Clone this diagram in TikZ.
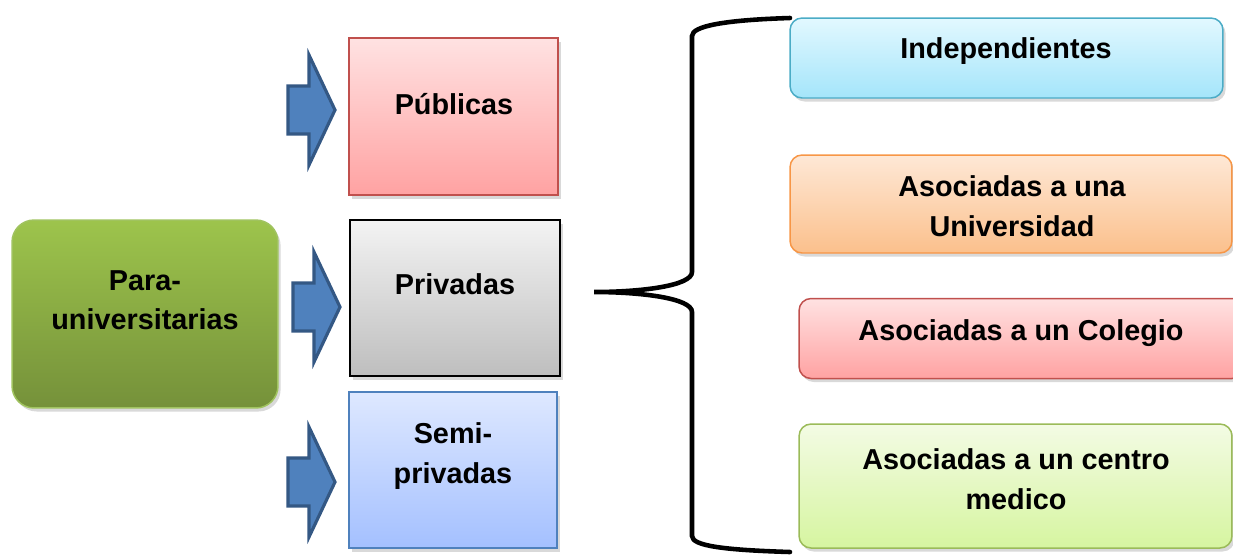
\documentclass[tikz,border=0pt]{standalone}
\usepackage{fontspec}
\setmainfont{Liberation Sans}
\usetikzlibrary{shadows}

\definecolor{grntop}{RGB}{157,196,76}
\definecolor{grnbot}{RGB}{117,145,58}
\definecolor{grnline}{RGB}{160,195,95}
\definecolor{redtop}{RGB}{255,226,226}
\definecolor{redbot}{RGB}{255,162,162}
\definecolor{redline}{RGB}{192,80,77}
\definecolor{graytop}{RGB}{243,243,243}
\definecolor{graybot}{RGB}{190,190,190}
\definecolor{bluetop}{RGB}{222,232,255}
\definecolor{bluebot}{RGB}{164,192,255}
\definecolor{blueline}{RGB}{79,129,189}
\definecolor{cyantop}{RGB}{226,248,255}
\definecolor{cyanbot}{RGB}{164,229,250}
\definecolor{cyanline}{RGB}{75,172,198}
\definecolor{orgtop}{RGB}{254,232,214}
\definecolor{orgbot}{RGB}{251,192,140}
\definecolor{orgline}{RGB}{247,150,70}
\definecolor{limetop}{RGB}{243,251,228}
\definecolor{limebot}{RGB}{214,245,160}
\definecolor{limeline}{RGB}{155,187,89}
\definecolor{arrfill}{RGB}{79,129,189}
\definecolor{arrline}{RGB}{52,88,132}

\begin{document}
\begin{tikzpicture}[
  x=0.02cm, y=-0.02cm,
  box/.style = {draw, line width=0.85pt, inner sep=0pt,
    drop shadow={opacity=0.3, shadow xshift=1.5pt, shadow yshift=-2pt}},
  roundbox/.style = {box, rounded corners=0.24cm},
  lbl/.style = {font=\fontsize{16.4}{22.5}\selectfont\bfseries, align=center, inner sep=0pt},
  blockarrow/.style = {fill=arrfill, draw=arrline, line width=1.8pt, line join=miter},
  brace/.style = {line width=2.6pt, line cap=round}
]
  \clip (0,0) rectangle (1233,559);

  % Left box
  \node[roundbox, rounded corners=0.44cm, top color=grntop, bottom color=grnbot, draw=grnline,
        minimum width=5.32cm, minimum height=3.76cm] (para) at (145,314) {};
  \node[lbl] (paratxt) at (145,300) {Para-\\universitarias};

  % Block arrows
  \foreach \x/\m in {288/110, 293/307, 288/482}
    \draw[blockarrow] (\x,\m-24) -- (\x+21,\m-24) -- (\x+21,\m-55) -- (\x+47,\m)
      -- (\x+21,\m+55) -- (\x+21,\m+24) -- (\x,\m+24) -- cycle;

  % Middle column
  \node[box, top color=redtop, bottom color=redbot, draw=redline,
        minimum width=4.18cm, minimum height=3.14cm] (pub) at (453.5,116.5) {};
  \node[lbl] (pubtxt) at (454,104) {Públicas};

  \node[box, top color=graytop, bottom color=graybot, draw=black,
        minimum width=4.20cm, minimum height=3.12cm] (priv) at (455,298) {};
  \node[lbl] (privtxt) at (455,284) {Privadas};

  \node[box, top color=bluetop, bottom color=bluebot, draw=blueline,
        minimum width=4.16cm, minimum height=3.12cm] (semi) at (453,470) {};
  \node[lbl] (semitxt) at (453,456) {Semi-\\privadas};

  % Brace
  \draw[brace] (790,18) .. controls (725,20) and (692,26) .. (692,36) -- (692,272)
    .. controls (692,286) and (640,292) .. (594,292)
    .. controls (640,292) and (692,298) .. (692,312) -- (692,536)
    .. controls (692,546) and (725,550) .. (790,552);

  % Right column
  \node[roundbox, top color=cyantop, bottom color=cyanbot, draw=cyanline,
        minimum width=8.66cm, minimum height=1.60cm] (indep) at (1006.5,58) {};
  \node[lbl] (indeptxt) at (1006,51) {Independientes};

  \node[roundbox, top color=orgtop, bottom color=orgbot, draw=orgline,
        minimum width=8.84cm, minimum height=1.96cm] (univ) at (1011,204) {};
  \node[lbl] (univtxt) at (1012,206) {Asociadas a una\\Universidad};

  \node[roundbox, top color=redtop, bottom color=redbot, draw=redline,
        minimum width=8.90cm, minimum height=1.60cm] (coleg) at (1021.5,338.5) {};
  \node[lbl] (colegtxt) at (1021,333) {Asociadas a un Colegio};

  \node[roundbox, top color=limetop, bottom color=limebot, draw=limeline,
        minimum width=8.66cm, minimum height=2.48cm] (centro) at (1015.5,486) {};
  \node[lbl] (centrotxt) at (1016,479) {Asociadas a un centro\\medico};
\end{tikzpicture}
\end{document}
